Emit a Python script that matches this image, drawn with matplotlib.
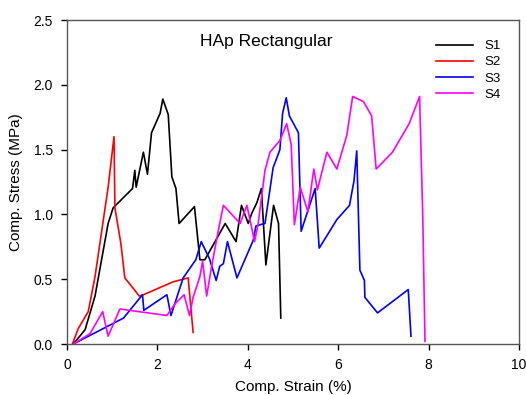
import matplotlib
matplotlib.use("Agg")
import matplotlib.pyplot as plt

plt.rcParams['font.family'] = ['Liberation Sans', 'DejaVu Sans']

# S1 (black)
s1_x = [0.14, 0.40, 0.62, 0.91, 1.02, 1.45, 1.50, 1.53, 1.69, 1.78, 1.87, 2.06, 2.12, 2.24,
        2.32, 2.41, 2.48, 2.82, 2.94, 3.05, 3.50, 3.74, 3.86, 4.01, 4.09, 4.20, 4.30, 4.40,
        4.57, 4.68, 4.73]
s1_y = [0.00, 0.11, 0.37, 0.93, 1.05, 1.20, 1.34, 1.21, 1.48, 1.31, 1.63, 1.78, 1.89, 1.77,
        1.29, 1.20, 0.93, 1.06, 0.65, 0.65, 0.93, 0.79, 1.07, 0.93, 1.01, 1.09, 1.20, 0.61,
        1.07, 0.93, 0.20]

# S2 (red)
s2_x = [0.12, 0.25, 0.47, 0.62, 0.91, 1.04, 1.06, 1.19, 1.28, 1.60, 1.69, 2.35, 2.68, 2.79]
s2_y = [0.00, 0.12, 0.25, 0.52, 1.21, 1.60, 1.05, 0.78, 0.51, 0.37, 0.38, 0.48, 0.51, 0.09]

# S3 (blue)
s3_x = [0.14, 1.25, 1.67, 1.70, 2.21, 2.30, 2.57, 2.85, 2.97, 3.15, 3.30, 3.38, 3.46, 3.55,
        3.76, 4.12, 4.18, 4.27, 4.38, 4.56, 4.71, 4.77, 4.85, 4.92, 5.12, 5.18, 5.49, 5.58,
        5.97, 6.25, 6.35, 6.41, 6.48, 6.58, 6.59, 6.87, 7.55, 7.61]
s3_y = [0.00, 0.20, 0.38, 0.26, 0.38, 0.22, 0.51, 0.65, 0.79, 0.66, 0.49, 0.60, 0.62, 0.79,
        0.51, 0.80, 0.91, 0.92, 0.93, 1.36, 1.50, 1.78, 1.90, 1.76, 1.63, 0.87, 1.20, 0.74,
        0.96, 1.07, 1.26, 1.49, 0.57, 0.49, 0.36, 0.24, 0.42, 0.06]

# S4 (magenta)
s4_x = [0.14, 0.51, 0.79, 0.91, 1.17, 2.21, 2.39, 2.59, 2.71, 2.79, 2.94, 3.00, 3.09, 3.20,
        3.35, 3.46, 3.83, 3.98, 4.15, 4.23, 4.38, 4.49, 4.71, 4.86, 4.96, 5.03, 5.16, 5.33,
        5.46, 5.54, 5.75, 5.97, 6.19, 6.32, 6.56, 6.74, 6.84, 7.20, 7.57, 7.80, 7.87, 7.92]
s4_y = [0.00, 0.08, 0.25, 0.06, 0.27, 0.22, 0.31, 0.38, 0.22, 0.36, 0.52, 0.64, 0.37, 0.60,
        0.88, 1.07, 0.93, 1.07, 0.79, 0.93, 1.34, 1.48, 1.57, 1.70, 1.54, 0.92, 1.21, 1.02,
        1.35, 1.19, 1.48, 1.35, 1.61, 1.91, 1.87, 1.76, 1.35, 1.48, 1.70, 1.91, 1.00, 0.02]

series = [("S1", s1_x, s1_y, "black"),
          ("S2", s2_x, s2_y, "red"),
          ("S3", s3_x, s3_y, "#0000ff"),
          ("S4", s4_x, s4_y, "magenta")]

fig = plt.figure(figsize=(5.26, 3.95), dpi=100)
ax = fig.add_axes([67 / 526, 51 / 395, 452 / 526, 324 / 395])

for name, xs, ys, c in series:
    ax.plot(xs, ys, color=c, lw=1.2, label=name)

ax.set_xlim(0, 10)
ax.set_ylim(0, 2.5)
ax.set_xticks([0, 2, 4, 6, 8, 10])
ax.set_yticks([0.0, 0.5, 1.0, 1.5, 2.0, 2.5])
ax.set_yticklabels(["0.0", "0.5", "1.0", "1.5", "2.0", "2.5"])
ax.tick_params(direction='out', length=4, width=1, labelsize=10, pad=6)
for sp in ax.spines.values():
    sp.set_color('#555555')
    sp.set_linewidth(1.0)

ax.set_xlabel("Comp. Strain (%)", fontsize=11, labelpad=6)
ax.set_ylabel("Comp. Stress (MPa)", fontsize=11, labelpad=8)
ax.text(0.44, 0.935, "HAp Rectangular", transform=ax.transAxes, fontsize=12.5,
        ha='center', va='center')

ax.legend(loc='upper right', frameon=False, fontsize=9.5, handlelength=2.8,
          labelspacing=0.3, bbox_to_anchor=(0.985, 0.975))

fig.savefig("out.png", dpi=100)
